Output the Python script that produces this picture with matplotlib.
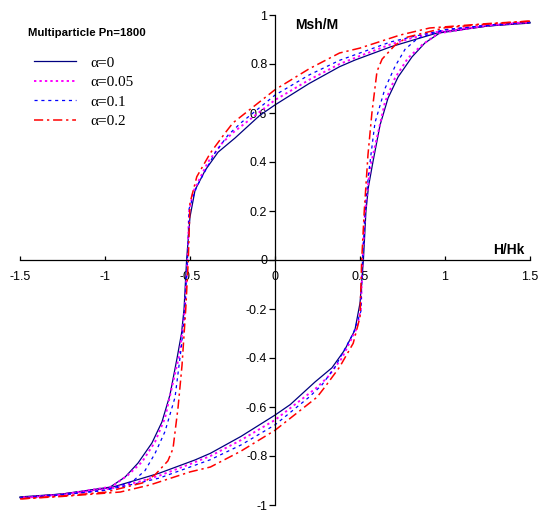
import numpy as np
import matplotlib.pyplot as plt

# hysteresis loops, Msh/M against H/Hk
# upper branch = field going down from +1.5 to -1.5
# lower branch = field going up from -1.5 to +1.5
alphas = ["0", "0.05", "0.1", "0.2"]

h_up_0 = [1.5, 1.25, 0.97, 0.8, 0.68, 0.47, 0.38, 0.2, 0.0, -0.09, -0.235, -0.335, -0.41, -0.47, -0.5,
          -0.52, -0.535, -0.55, -0.576, -0.618, -0.665, -0.724, -0.806, -0.882, -0.97, -1.25, -1.5]
m_up_0 = [0.97, 0.955, 0.93, 0.895, 0.87, 0.816, 0.789, 0.72, 0.633, 0.59, 0.498, 0.44, 0.367, 0.286, 0.176,
          0.0, -0.2, -0.3, -0.4, -0.551, -0.661, -0.747, -0.829, -0.886, -0.927, -0.955, -0.967]
h_lo_0 = [-1.5, -1.25, -0.97, -0.8, -0.68, -0.47, -0.38, -0.2, 0.0, 0.09, 0.235, 0.335, 0.41, 0.47, 0.5,
          0.52, 0.535, 0.55, 0.576, 0.618, 0.665, 0.724, 0.806, 0.882, 0.97, 1.25, 1.5]
m_lo_0 = [-0.97, -0.955, -0.93, -0.895, -0.87, -0.816, -0.789, -0.72, -0.633, -0.59, -0.498, -0.44, -0.367, -0.286, -0.176,
          0.0, 0.2, 0.3, 0.4, 0.551, 0.661, 0.747, 0.829, 0.886, 0.927, 0.955, 0.967]

h_up_05 = [1.5, 1.25, 0.96, 0.8, 0.68, 0.5, 0.38, 0.2, 0.0, -0.247, -0.31, -0.394, -0.48, -0.505,
           -0.515, -0.53, -0.56, -0.6, -0.647, -0.706, -0.782, -0.865, -0.96, -1.25, -1.5]
m_up_05 = [0.972, 0.958, 0.932, 0.905, 0.88, 0.833, 0.8, 0.735, 0.653, 0.52, 0.478, 0.4, 0.28, 0.2,
           0.0, -0.2, -0.38, -0.5, -0.645, -0.743, -0.824, -0.878, -0.925, -0.957, -0.97]
h_lo_05 = [-1.5, -1.25, -0.96, -0.8, -0.68, -0.5, -0.38, -0.2, 0.0, 0.247, 0.31, 0.394, 0.48, 0.505,
           0.515, 0.53, 0.56, 0.6, 0.647, 0.706, 0.782, 0.865, 0.96, 1.25, 1.5]
m_lo_05 = [-0.972, -0.958, -0.932, -0.905, -0.88, -0.833, -0.8, -0.735, -0.653, -0.52, -0.478, -0.4, -0.28, -0.2,
           0.0, 0.2, 0.38, 0.5, 0.645, 0.743, 0.824, 0.878, 0.925, 0.957, 0.97]

h_up_1 = [1.5, 1.25, 1.0, 0.8, 0.68, 0.5, 0.38, 0.2, 0.0, -0.2, -0.276, -0.353, -0.46, -0.505,
          -0.515, -0.53, -0.55, -0.588, -0.647, -0.706, -0.765, -0.84, -1.0, -1.25, -1.5]
m_up_1 = [0.972, 0.958, 0.94, 0.91, 0.89, 0.845, 0.815, 0.755, 0.673, 0.56, 0.51, 0.437, 0.3, 0.21,
          0.0, -0.2, -0.35, -0.56, -0.70, -0.79, -0.86, -0.905, -0.94, -0.958, -0.972]
h_lo_1 = [-1.5, -1.25, -1.0, -0.8, -0.68, -0.5, -0.38, -0.2, 0.0, 0.2, 0.276, 0.353, 0.46, 0.505,
          0.515, 0.53, 0.55, 0.588, 0.647, 0.706, 0.765, 0.84, 1.0, 1.25, 1.5]
m_lo_1 = [-0.972, -0.958, -0.94, -0.91, -0.89, -0.845, -0.815, -0.755, -0.673, -0.56, -0.51, -0.437, -0.3, -0.21,
          0.0, 0.2, 0.35, 0.56, 0.70, 0.79, 0.86, 0.905, 0.94, 0.958, 0.972]

h_up_2 = [1.5, 1.25, 0.91, 0.735, 0.5, 0.38, 0.2, 0.0, -0.247, -0.294, -0.38, -0.46, -0.5,
          -0.51, -0.525, -0.547, -0.57, -0.6, -0.63, -0.706, -0.78, -1.0, -1.25, -1.5]
m_up_2 = [0.975, 0.965, 0.947, 0.918, 0.865, 0.845, 0.78, 0.695, 0.56, 0.518, 0.437, 0.34, 0.233,
          0.0, -0.2, -0.43, -0.6, -0.77, -0.82, -0.877, -0.91, -0.948, -0.963, -0.975]
h_lo_2 = [-1.5, -1.25, -0.91, -0.735, -0.5, -0.38, -0.2, 0.0, 0.247, 0.294, 0.38, 0.46, 0.5,
          0.51, 0.525, 0.547, 0.57, 0.6, 0.63, 0.706, 0.78, 1.0, 1.25, 1.5]
m_lo_2 = [-0.975, -0.965, -0.947, -0.918, -0.865, -0.845, -0.78, -0.695, -0.56, -0.518, -0.437, -0.34, -0.233,
          0.0, 0.2, 0.43, 0.6, 0.77, 0.82, 0.877, 0.91, 0.948, 0.963, 0.975]

x_ticks = [-1.5, -1, -0.5, 0, 0.5, 1, 1.5]
x_labels = ["-1.5", "-1", "-0.5", "0", "0.5", "1", "1.5"]
y_ticks = [1, 0.8, 0.6, 0.4, 0.2, 0, -0.2, -0.4, -0.6, -0.8, -1]
y_labels = ["1", "0.8", "0.6", "0.4", "0.2", "0", "-0.2", "-0.4", "-0.6", "-0.8", "-1"]

loops = [
    (h_up_0, m_up_0, h_lo_0, m_lo_0),
    (h_up_05, m_up_05, h_lo_05, m_lo_05),
    (h_up_1, m_up_1, h_lo_1, m_lo_1),
    (h_up_2, m_up_2, h_lo_2, m_lo_2),
]
styles = [
    dict(color="#000080", lw=0.9, linestyle="-"),
    dict(color="#FF00FF", lw=1.4, linestyle=(0, (1.2, 1.6))),
    dict(color="#0000FF", lw=0.9, linestyle=(0, (2.5, 3.0))),
    dict(color="#FF0000", lw=1.1, linestyle=(0, (6, 2.5, 1.5, 2.5))),
]

plt.rcParams["font.family"] = ["Liberation Sans", "DejaVu Sans"]

fig = plt.figure(figsize=(5.4, 5.13), dpi=100)
ax = fig.add_axes([20 / 540, 8 / 513, 510 / 540, 490 / 513])

for (hu, mu, hl, ml), st, a in zip(loops, styles, alphas):
    ax.plot(hu, mu, label="\u03b1=" + a, clip_on=False, **st)
    ax.plot(hl, ml, clip_on=False, **st)

ax.set_xlim(-1.5, 1.5)
ax.set_ylim(-1, 1)

# axes crossing at the origin
ax.spines["left"].set_position(("data", 0))
ax.spines["bottom"].set_position(("data", 0))
ax.spines["top"].set_visible(False)
ax.spines["right"].set_visible(False)
ax.spines["left"].set_linewidth(0.9)
ax.spines["bottom"].set_linewidth(0.9)

ax.set_xticks(x_ticks)
ax.set_xticklabels(x_labels)
ax.set_yticks(y_ticks)
ax.set_yticklabels(y_labels)
ax.tick_params(axis="x", direction="in", length=3.2, width=0.9, pad=8, labelsize=9)
ax.tick_params(axis="y", direction="out", length=4, width=0.9, pad=1.5, labelsize=9)

ax.text(0.118, 0.988, "Msh/M", fontsize=10, fontweight="bold", ha="left", va="top")
ax.text(1.465, 0.025, "H/Hk", fontsize=10, fontweight="bold", ha="right", va="baseline")

fig.text(28 / 540, 1 - 33 / 513, "Multiparticle Pn=1800", fontsize=8.2,
         fontweight="bold", ha="left", va="center")
leg = ax.legend(loc="upper left", bbox_to_anchor=(31 / 540, 1 - 53 / 513),
                bbox_transform=fig.transFigure, frameon=False,
                prop={"family": "Liberation Serif", "size": 11},
                handlelength=2.75, handletextpad=0.95, labelspacing=0.38,
                borderpad=0.2, borderaxespad=0)

fig.savefig("out.png", dpi=100)
